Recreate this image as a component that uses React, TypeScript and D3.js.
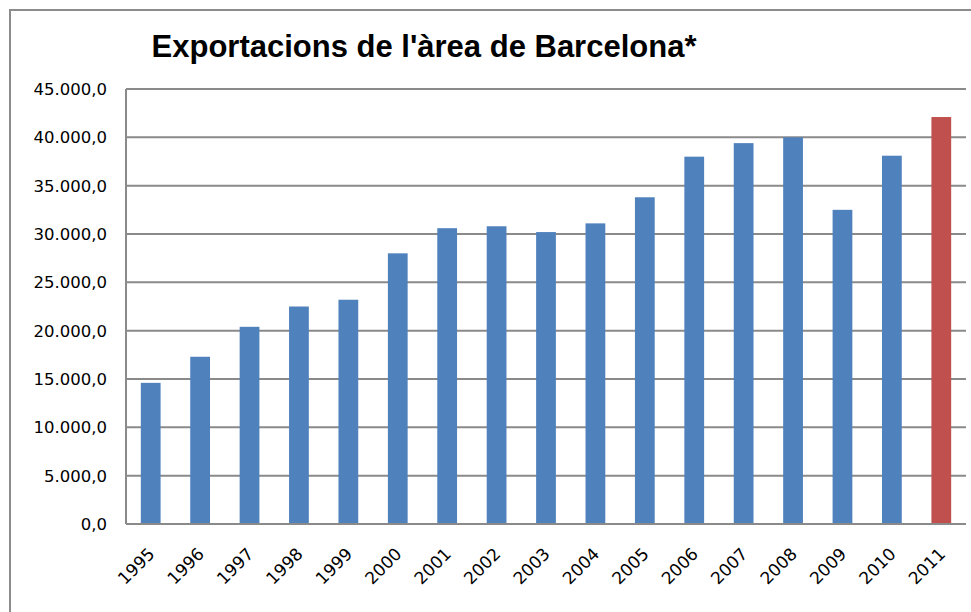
import React, { useEffect, useRef } from 'react';
import * as d3 from 'd3';

const years = ['1995', '1996', '1997', '1998', '1999', '2000', '2001', '2002', '2003', '2004', '2005', '2006', '2007', '2008', '2009', '2010', '2011'];
const exportValues = [14600, 17300, 20400, 22500, 23200, 28000, 30600, 30800, 30200, 31100, 33800, 38000, 39400, 40000, 32500, 38100, 42100];
const yTicks = [0, 5000, 10000, 15000, 20000, 25000, 30000, 35000, 40000, 45000];
const highlightYear = '2011';

const fmt = (v: number) => d3.format(',.1f')(v).replace(/,/g, 'X').replace('.', ',').replace(/X/g, '.');

export default function App() {
  const ref = useRef<SVGSVGElement>(null);

  useEffect(() => {
    const svg = d3.select(ref.current);
    svg.selectAll('*').remove();

    const margin = { top: 89, right: 5, bottom: 88, left: 126 };
    const width = 971 - margin.left - margin.right;
    const height = 612 - margin.top - margin.bottom;

    // chart frame
    svg
      .append('rect')
      .attr('x', 10)
      .attr('y', 10)
      .attr('width', 980)
      .attr('height', 640)
      .attr('fill', 'white')
      .attr('stroke', '#8c8c8c')
      .attr('stroke-width', 2);

    svg
      .append('text')
      .attr('x', 424)
      .attr('y', 57)
      .attr('text-anchor', 'middle')
      .style('font-family', 'Liberation Sans, Arial, sans-serif')
      .style('font-weight', 'bold')
      .style('font-size', '31px')
      .text("Exportacions de l'àrea de Barcelona*");

    const g = svg.append('g').attr('transform', `translate(${margin.left}, ${margin.top})`);

    const x = d3.scaleBand().domain(years).range([0, width]).paddingInner(0.6).paddingOuter(0.3);
    const y = d3.scaleLinear().domain([0, 45000]).range([height, 0]);

    // gridlines
    g.selectAll('line.grid')
      .data(yTicks)
      .enter()
      .append('line')
      .attr('class', 'grid')
      .attr('x1', 0)
      .attr('x2', width)
      .attr('y1', (d) => y(d))
      .attr('y2', (d) => y(d))
      .attr('stroke', '#8a8a8a')
      .attr('stroke-width', 2);

    g.selectAll('rect.bar')
      .data(years)
      .enter()
      .append('rect')
      .attr('class', 'bar')
      .attr('x', (d) => x(d) as number)
      .attr('y', (d, i) => y(exportValues[i]))
      .attr('width', x.bandwidth())
      .attr('height', (d, i) => height - y(exportValues[i]))
      .attr('fill', (d) => (d === highlightYear ? '#C0504D' : '#4F81BD'));

    // axis lines
    g.append('line')
      .attr('x1', 0)
      .attr('x2', 0)
      .attr('y1', 0)
      .attr('y2', height)
      .attr('stroke', '#8a8a8a')
      .attr('stroke-width', 2);
    g.append('line')
      .attr('x1', 0)
      .attr('x2', width)
      .attr('y1', height)
      .attr('y2', height)
      .attr('stroke', '#8a8a8a')
      .attr('stroke-width', 2);

    g.selectAll('text.ytick')
      .data(yTicks)
      .enter()
      .append('text')
      .attr('class', 'ytick')
      .attr('x', -19)
      .attr('y', (d) => y(d) + 6)
      .attr('text-anchor', 'end')
      .style('font-family', 'DejaVu Sans, sans-serif')
      .style('font-size', '16.5px')
      .text((d) => fmt(d));

    g.selectAll('text.xtick')
      .data(years)
      .enter()
      .append('text')
      .attr('class', 'xtick')
      .attr('text-anchor', 'end')
      .attr('transform', (d) => {
        const cx = (x(d) as number) + x.bandwidth() / 2 + 5;
        return `translate(${cx}, ${height + 31}) rotate(-45)`;
      })
      .style('font-family', 'DejaVu Sans, sans-serif')
      .style('font-size', '17px')
      .text((d) => d);
  }, []);

  return (
    <svg ref={ref} width={971} height={612} style={{ position: 'absolute', left: 0, top: 0 }} />
  );
}
